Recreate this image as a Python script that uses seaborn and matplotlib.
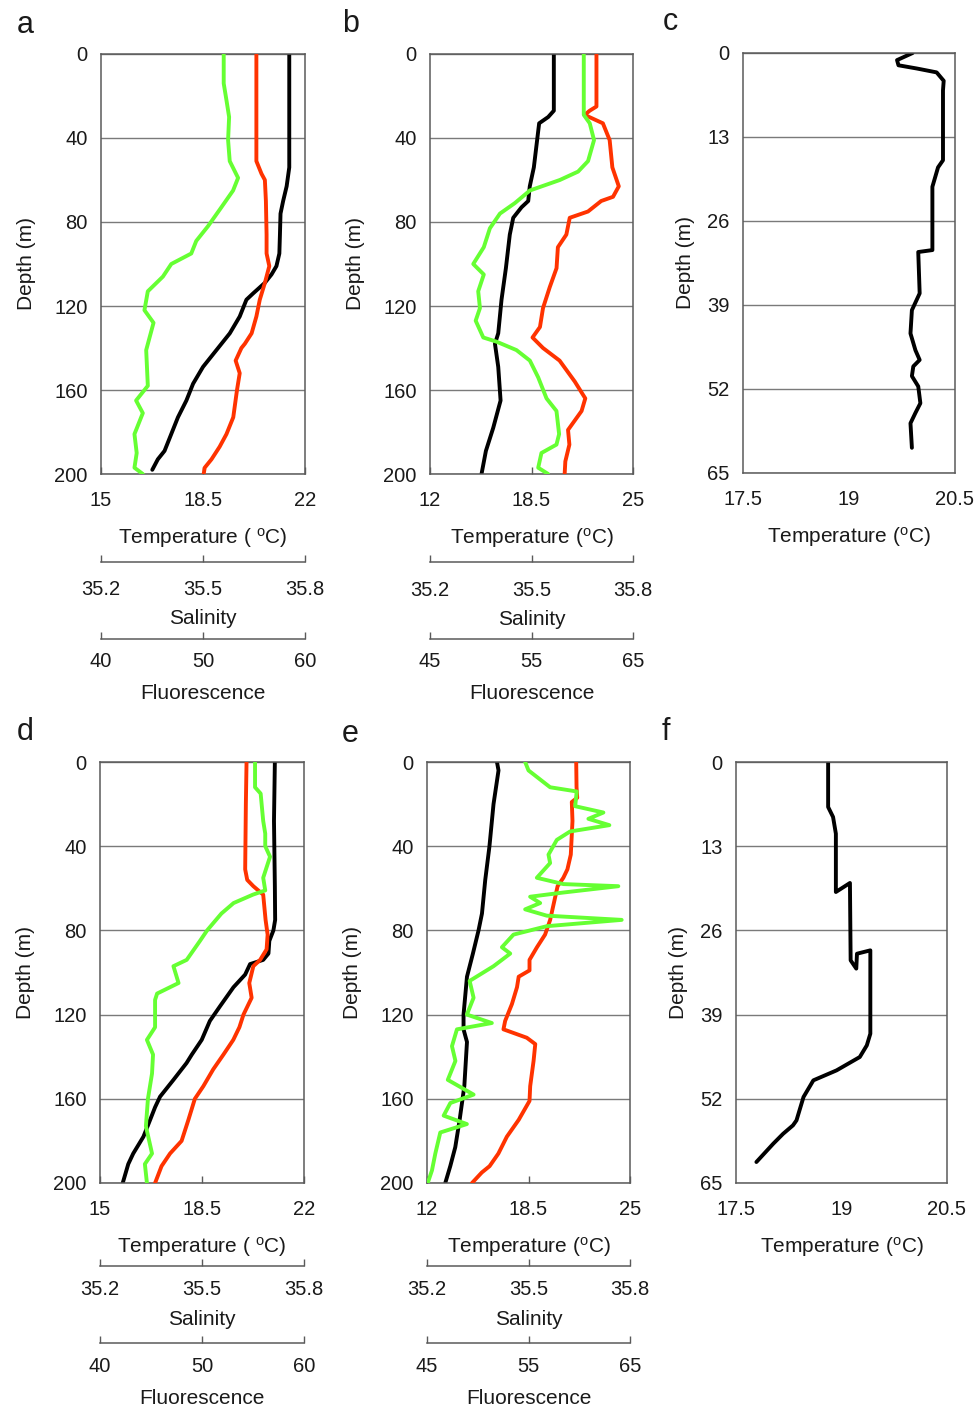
import matplotlib.pyplot as plt
import seaborn as sns

sns.set_style("white")
plt.rcParams['font.family'] = ['Liberation Sans', 'DejaVu Sans']
plt.rcParams['mathtext.default'] = 'regular'

# ---- data (depth in m) ----
# panel a
a_temp_depth = [0, 54, 63, 70, 76, 86, 95, 101, 105, 109, 114, 117, 125, 133, 141, 149, 157, 165, 173, 181, 189, 193, 198]
a_temp = [21.46, 21.46, 21.37, 21.25, 21.16, 21.14, 21.12, 21.02, 20.85, 20.62, 20.22, 19.99, 19.76, 19.42,
          18.96, 18.5, 18.16, 17.93, 17.64, 17.41, 17.18, 16.95, 16.76]
a_sal_depth = [0, 51, 57, 60, 70, 86, 95, 101, 109, 117, 125, 133, 138, 140, 146, 152, 160, 173, 181, 187, 193, 197, 200]
a_sal = [35.657, 35.657, 35.672, 35.682, 35.685, 35.687, 35.687, 35.695, 35.682, 35.667, 35.657, 35.643,
         35.623, 35.613, 35.596, 35.608, 35.600, 35.589, 35.569, 35.549, 35.525, 35.505, 35.502]
a_flu_depth = [0, 14, 22, 30, 41, 51, 59, 65, 73, 82, 89, 95, 100, 106, 113, 122, 128, 141, 158, 165, 171, 181, 190, 197, 200]
a_flu = [52.03, 52.03, 52.3, 52.56, 52.46, 52.62, 53.44, 52.95, 51.8, 50.49, 49.34, 48.85, 46.89, 46.07,
         44.59, 44.26, 45.15, 44.43, 44.59, 43.44, 44.1, 43.28, 43.5, 43.28, 44.1]

# panel b
b_temp_depth = [0, 27, 30, 33, 41, 54, 63, 70, 73, 78, 86, 102, 117, 133, 138, 149, 165, 178, 189, 200]
b_temp = [19.93, 19.93, 19.57, 18.99, 18.86, 18.65, 18.39, 18.29, 17.86, 17.33, 17.11, 16.86, 16.58, 16.37,
          16.16, 16.37, 16.52, 16.05, 15.58, 15.3]
b_sal_depth = [0, 25, 27, 29, 33, 41, 54, 63, 68, 70, 75, 78, 86, 92, 102, 111, 121, 130, 135, 140, 146, 156,
               164, 170, 179, 186, 194, 200]
b_sal = [35.692, 35.692, 35.672, 35.657, 35.711, 35.731, 35.739, 35.758, 35.741, 35.706, 35.667, 35.613,
         35.603, 35.578, 35.574, 35.554, 35.534, 35.525, 35.503, 35.534, 35.583, 35.628, 35.659, 35.648,
         35.608, 35.612, 35.600, 35.598]
b_flu_depth = [0, 29, 33, 41, 51, 56, 60, 65, 71, 76, 83, 92, 100, 105, 113, 121, 127, 135, 137, 141, 146, 154,
               164, 170, 181, 186, 190, 197, 200]
b_flu = [60.15, 60.15, 60.74, 61.16, 60.57, 59.59, 57.79, 54.84, 53.36, 51.89, 50.9, 50.3, 49.26, 50.3, 49.75,
         49.92, 49.5, 50.25, 51.56, 53.52, 54.84, 55.66, 56.48, 57.46, 57.72, 57.46, 55.98, 55.66, 56.64]

# panel c
c_temp_depth = [0, 1.1, 1.9, 2.4, 3.0, 4.3, 5.8, 16.6, 17.7, 20.7, 30.5, 30.8, 37.2, 39.8, 43.4, 46, 47.5,
                48.5, 50, 51.6, 54.2, 55.7, 57.3, 61.1]
c_temp = [19.90, 19.68, 19.70, 19.96, 20.24, 20.34, 20.33, 20.33, 20.26, 20.18, 20.18, 19.98, 20.0, 19.89,
          19.87, 19.94, 20.0, 19.91, 19.89, 19.98, 20.01, 19.94, 19.87, 19.89]

# panel d
d_temp_depth = [0, 28, 59, 75, 80, 85, 91, 94, 96, 101, 107, 116, 123, 132, 139, 143, 151, 159, 164, 170,
                178, 186, 191, 200]
d_temp = [21.0, 20.97, 21.0, 21.01, 20.95, 20.81, 20.78, 20.6, 20.15, 19.98, 19.58, 19.12, 18.77, 18.49,
          18.15, 17.97, 17.52, 17.06, 16.89, 16.72, 16.49, 16.14, 15.97, 15.78]
d_sal_depth = [0, 20, 51, 56, 59, 63, 75, 82, 89, 94, 97, 105, 112, 120, 126, 132, 139, 146, 154, 160, 170,
               180, 186, 192, 200]
d_sal = [35.631, 35.629, 35.627, 35.633, 35.651, 35.680, 35.687, 35.693, 35.690, 35.671, 35.651, 35.639,
         35.646, 35.622, 35.610, 35.592, 35.563, 35.533, 35.504, 35.479, 35.460, 35.440, 35.406, 35.381, 35.362]
d_flu_depth = [0, 12, 15, 28, 34, 40, 45, 55, 61, 63, 67, 72, 80, 85, 94, 97, 105, 110, 113, 126, 132, 139,
               148, 160, 173, 186, 191, 200]
d_flu = [55.2, 55.2, 55.75, 56.0, 56.2, 56.2, 56.67, 56.0, 56.2, 55.0, 53.1, 51.9, 50.5, 49.8, 48.5, 47.2,
         47.7, 45.6, 45.4, 45.4, 44.6, 45.2, 45.1, 44.7, 44.5, 45.1, 44.4, 44.6]

# panel e
e_temp_depth = [0, 4, 20, 40, 56, 72, 80, 91, 102, 120, 127, 133, 154, 170, 183, 192, 200]
e_temp = [16.48, 16.58, 16.26, 16.0, 15.73, 15.52, 15.30, 14.94, 14.56, 14.34, 14.34, 14.56, 14.39, 14.09,
          13.81, 13.49, 13.17]
e_sal_depth = [0, 12, 17, 19, 28, 44, 51, 55, 59, 75, 82, 88, 94, 99, 102, 107, 115, 123, 127, 131, 134, 142,
               154, 161, 170, 178, 186, 192, 195, 200]
e_sal = [35.641, 35.642, 35.644, 35.628, 35.630, 35.625, 35.615, 35.603, 35.586, 35.564, 35.549, 35.525,
         35.503, 35.503, 35.471, 35.466, 35.451, 35.431, 35.426, 35.495, 35.520, 35.515, 35.505, 35.503,
         35.471, 35.436, 35.411, 35.385, 35.362, 35.333]
e_flu_depth = [0, 4, 12, 14, 21, 24, 27, 30, 33, 37, 44, 48, 55, 58, 59, 62, 64, 67, 70, 73, 75, 78, 82, 88,
               91, 97, 104, 112, 120, 124, 127, 135, 142, 151, 158, 162, 168, 172, 176, 186, 194, 200]
e_flu = [54.67, 55.0, 57.13, 59.75, 59.6, 62.38, 60.9, 62.97, 59.1, 57.79, 56.97, 57.13, 55.82, 58.44, 63.85,
         58.44, 55.16, 56.15, 54.67, 56.8, 64.18, 56.8, 53.52, 52.38, 53.2, 51.56, 49.2, 49.59, 48.93, 51.39,
         47.95, 47.46, 47.8, 47.05, 49.59, 47.3, 46.64, 48.93, 46.31, 45.82, 45.49, 45.07]

# panel f
f_temp_depth = [0, 6.95, 8.49, 11.07, 20.07, 18.68, 30.62, 31.9, 29.6, 29.08, 41.95, 43.75, 45.55, 47.61,
                49.15, 51.72, 55.33, 56.1, 57.4, 58.93, 61.76]
f_temp = [18.81, 18.81, 18.88, 18.92, 18.92, 19.12, 19.13, 19.21, 19.22, 19.41, 19.41, 19.36, 19.26, 18.93,
          18.60, 18.46, 18.36, 18.31, 18.17, 18.03, 17.79]

# axis ranges / ticks
temp_ticks_ad = [15, 18.5, 22]
temp_ticks_be = [12, 18.5, 25]
temp_ticks_cf = [17.5, 19, 20.5]
sal_ticks = [35.2, 35.5, 35.8]
flu_ticks_ad = [40, 50, 60]
flu_ticks_be = [45, 55, 65]
depth_ticks_long = [0, 40, 80, 120, 160, 200]
depth_ticks_short = [0, 13, 26, 39, 52, 65]

BLACK = '#000000'
RED = '#ff3300'
GREEN = '#66ff33'
SPINE = '#5a5a5a'
GRID = '#7a7a7a'
TXT = '#1a1a1a'
TICK_FS = 14.5
LAB_FS = 15
LW = 2.8

W, H = 976, 1409
fig = plt.figure(figsize=(W / 100, H / 100), dpi=100)


def rect(l, t, r, b):
    return [l / W, 1 - b / H, (r - l) / W, (b - t) / H]


def base_axes(box, xticks, yticks):
    ax = fig.add_axes(box)
    ax.set_xlim(xticks[0], xticks[-1])
    ax.set_ylim(yticks[-1], yticks[0])
    ax.set_xticks(xticks, labels=[f"{t:g}" for t in xticks])
    ax.set_yticks(yticks, labels=[f"{t:g}" for t in yticks])
    ax.grid(axis='y', color=GRID, lw=1.0)
    ax.grid(axis='x', visible=False)
    for sp in ax.spines.values():
        sp.set_color(SPINE)
        sp.set_linewidth(1.1)
    ax.tick_params(axis='x', direction='in', length=5, width=1, color=SPINE, pad=12,
                   labelsize=TICK_FS, labelcolor=TXT)
    ax.tick_params(axis='y', direction='out', length=6, width=1, color=SPINE, pad=3.5,
                   labelsize=TICK_FS, labelcolor=TXT)
    ax.set_axisbelow(True)
    return ax


def extra_axis(ax, ticks, offset, pad):
    tw = ax.twiny()
    tw.set_xlim(ticks[0], ticks[-1])
    tw.xaxis.set_ticks_position('bottom')
    tw.xaxis.set_label_position('bottom')
    tw.spines['bottom'].set_position(('outward', offset))
    for sp in ['top', 'left', 'right']:
        tw.spines[sp].set_visible(False)
    tw.spines['bottom'].set_color(SPINE)
    tw.spines['bottom'].set_linewidth(1.1)
    tw.set_xticks(ticks, labels=[f"{t:g}" for t in ticks])
    tw.tick_params(axis='x', direction='in', length=5, width=1, color=SPINE, pad=pad,
                   labelsize=TICK_FS, labelcolor=TXT)
    return tw


def profile(ax, x, y, color):
    sns.lineplot(x=x, y=y, sort=False, estimator=None, color=color, lw=LW, ax=ax)


panels = [
    # letter, box, temp ticks, label, data..., flu ticks, sal offset/pad, flu offset/pad, letter pos
    ('a', rect(101, 54, 305, 474), temp_ticks_ad, 'Temperature ( $^{o}$C)',
     a_temp, a_temp_depth, a_sal, a_sal_depth, a_flu, a_flu_depth, flu_ticks_ad, (63, 13), (118.5, 9.5), (17, 33)),
    ('b', rect(430, 54, 633, 474), temp_ticks_be, 'Temperature ($^{o}$C)',
     b_temp, b_temp_depth, b_sal, b_sal_depth, b_flu, b_flu_depth, flu_ticks_be, (63, 14), (118.5, 9.5), (342, 32)),
    ('d', rect(100, 762, 304, 1183), temp_ticks_ad, 'Temperature ( $^{o}$C)',
     d_temp, d_temp_depth, d_sal, d_sal_depth, d_flu, d_flu_depth, flu_ticks_ad, (59.5, 10.5), (115.5, 10), (17, 740)),
    ('e', rect(427, 762, 630, 1183), temp_ticks_be, 'Temperature ($^{o}$C)',
     e_temp, e_temp_depth, e_sal, e_sal_depth, e_flu, e_flu_depth, flu_ticks_be, (59.5, 10.5), (115.5, 10), (342, 742)),
]

for (letter, box, tticks, tlabel, tv, td, sv, sd, fv, fd, fticks, sal_ax, flu_ax, lpos) in panels:
    ax = base_axes(box, tticks, depth_ticks_long)
    profile(ax, tv, td, BLACK)
    ax_s = extra_axis(ax, sal_ticks, sal_ax[0], sal_ax[1])
    profile(ax_s, sv, sd, RED)
    ax_f = extra_axis(ax, fticks, flu_ax[0], flu_ax[1])
    profile(ax_f, fv, fd, GREEN)
    ax.set_ylim(200, 0)
    ax.set_xlabel(tlabel, fontsize=LAB_FS, color=TXT, labelpad=12)
    ax.set_ylabel('Depth (m)', fontsize=LAB_FS, color=TXT, labelpad=13)
    ax_s.set_xlabel('Salinity', fontsize=LAB_FS, color=TXT, labelpad=7.5)
    ax_f.set_xlabel('Fluorescence', fontsize=LAB_FS, color=TXT, labelpad=9.5)
    ax_s.set_ylabel('')
    ax_f.set_ylabel('')
    fig.text(lpos[0] / W, 1 - lpos[1] / H, letter, fontsize=22, color=TXT, ha='left', va='baseline')

short_panels = [
    ('c', rect(743, 53, 955, 473), c_temp, c_temp_depth, (663, 30)),
    ('f', rect(736, 762, 947, 1183), f_temp, f_temp_depth, (662, 740)),
]
for (letter, box, tv, td, lpos) in short_panels:
    ax = base_axes(box, temp_ticks_cf, depth_ticks_short)
    profile(ax, tv, td, BLACK)
    ax.set_ylim(65, 0)
    ax.set_xlabel('Temperature ($^{o}$C)', fontsize=LAB_FS, color=TXT, labelpad=12)
    ax.set_ylabel('Depth (m)', fontsize=LAB_FS, color=TXT, labelpad=9)
    fig.text(lpos[0] / W, 1 - lpos[1] / H, letter, fontsize=22, color=TXT, ha='left', va='baseline')

fig.savefig('out.png', dpi=100)
